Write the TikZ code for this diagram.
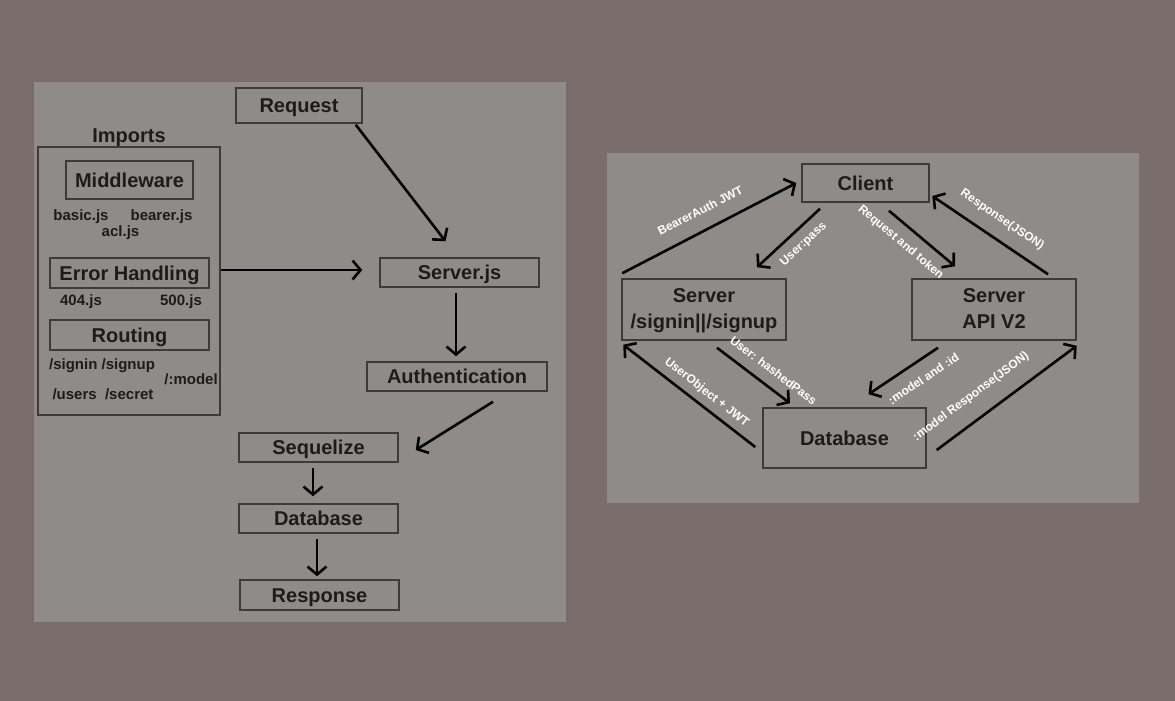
\documentclass[tikz,border=0pt]{standalone}
\usepackage{fontspec}
\setmainfont{Liberation Sans}
\usetikzlibrary{arrows.meta,calc}
\definecolor{outerbg}{HTML}{7A6E6D}
\definecolor{panelbg}{HTML}{8F8B8A}
\definecolor{boxc}{HTML}{3D3A3A}
\definecolor{txtc}{HTML}{1E1B1B}
\tikzset{
  boxn/.style={draw=boxc, line width=1.5pt, inner sep=0pt},
  big/.style={font=\fontsize{20}{24}\selectfont\bfseries, text=txtc, text height=14.3pt, text depth=0pt},
  small/.style={font=\fontsize{15}{18}\selectfont\bfseries, text=txtc, text height=10.7pt, text depth=0pt, inner sep=0pt},
  wl/.style={font=\fontsize{12}{14}\selectfont\bfseries, text=white, text height=8.6pt, text depth=0pt, inner sep=0pt, sloped},
  arr/.style={draw=black, line width=2.6pt, -{Straight Barb[length=8pt,width=19pt]}}
}
\begin{document}
\begin{tikzpicture}[x=1pt,y=-1pt]
\fill[outerbg] (0,0) rectangle (1175,701);
\useasboundingbox (0,0) rectangle (1175,701);
% panels
\fill[panelbg] (34,82) rectangle (566,622);
\fill[panelbg] (607,153) rectangle (1139,503);

% ---------- left panel ----------
\node[boxn, big, minimum width=126pt, minimum height=35pt] (request) at (299,105.5) {Request};
\node[big, inner sep=0pt] (importsl) at (129,135) {Imports};
\node[boxn, minimum width=182pt, minimum height=268pt] (imports) at (129,281) {};
\node[boxn, big, minimum width=127pt, minimum height=38pt] (middleware) at (129.5,180) {Middleware};
\node[small] (basic) at (81,215) {basic.js};
\node[small] (bearer) at (161.5,215) {bearer.js};
\node[small] (acl) at (120.5,231) {acl.js};
\node[boxn, big, minimum width=159pt, minimum height=30pt] (errh) at (129.5,273) {Error Handling};
\node[small] (e404) at (81,300) {404.js};
\node[small] (e500) at (181,300) {500.js};
\node[boxn, big, minimum width=159pt, minimum height=30pt] (routing) at (129.5,335) {Routing};
\node[small] (rsign) at (102,364) {/signin /signup};
\node[small] (rusers) at (103,394.5) {/users\ \ /secret};
\node[small] (rmodel) at (191,379) {/:model};

\node[boxn, big, minimum width=159pt, minimum height=29pt] (server) at (459.5,272.5) {Server.js};
\node[boxn, big, minimum width=180pt, minimum height=29pt] (auth) at (457,376.5) {Authentication};
\node[boxn, big, minimum width=159pt, minimum height=29pt] (seq) at (318.5,447.5) {Sequelize};
\node[boxn, big, minimum width=159pt, minimum height=29pt] (db) at (318.5,518.5) {Database};
\node[boxn, big, minimum width=159pt, minimum height=30pt] (resp) at (319.5,595) {Response};

\draw[arr] ($(request.south east)+(-7,1)$) -- ($(server.north)+(-14,-16)$);
\draw[arr] (imports.east |- 0,270) -- ($(server.west)+(-17,-2.5)$);
\draw[arr] ($(server.south)+(-3.5,5)$) -- ($(auth.north)+(-1,-5)$);
\draw[arr] ($(auth.south)+(36,10)$) -- ($(seq.east)+(17,2.5)$);
\draw[arr] ($(seq.south)+(-5.5,5)$) -- ($(db.north)+(-5.5,-7)$);
\draw[arr] ($(db.south)+(-1.5,5)$) -- ($(resp.north)+(-2.5,-3)$);

% ---------- right panel ----------
\node[boxn, big, minimum width=127pt, minimum height=38pt] (client) at (865.5,183) {Client};
\node[boxn, minimum width=164pt, minimum height=61pt] (srv1) at (704,309.5) {};
\node[big, inner sep=0pt] (srv1a) at (704,295.5) {Server};
\node[big, inner sep=0pt] (srv1b) at (704,321.5) {/signin||/signup};
\node[boxn, minimum width=164pt, minimum height=61pt] (srv2) at (994,309.5) {};
\node[big, inner sep=0pt] (srv2a) at (994,295.5) {Server};
\node[big, inner sep=0pt] (srv2b) at (994,321.5) {API V2};
\node[boxn, big, minimum width=163pt, minimum height=60pt] (rdb) at (844.5,438) {Database};

\draw[arr] ($(srv1.north west)+(1,-5)$) -- node[wl, pos=0.5, above=14.3pt] (lbear) {BearerAuth JWT} ($(client.west)+(-5,0)$);
\draw[arr] ($(client.south)+(-45.5,6)$) -- node[wl, pos=0.42, below=7.9pt] (lup) {User:pass} ($(srv1.north)+(53,-11)$);
\draw[arr] ($(client.south)+(23.5,8)$) -- node[wl, pos=0.34, below=9.9pt] (lrt) {Request and token} ($(srv2.north)+(-39,-12)$);
\draw[arr] ($(srv2.north)+(54,-4)$) -- node[wl, pos=0.49, above=15pt] (lrj) {Response(JSON)} ($(client.east)+(2.5,13)$);
\draw[arr] ($(rdb.west)+(-7,9)$) -- node[wl, pos=0.43, above=8.9pt] (luo) {UserObject + JWT} ($(srv1.south west)+(2,4)$);
\draw[arr] ($(srv1.south)+(13,7)$) -- node[wl, pos=0.64, above=10.5pt] (lhp) {User: hashedPass} ($(rdb.north)+(-54.5,-4)$);
\draw[arr] ($(srv2.south)+(-56,7)$) -- node[wl, pos=0.35, below=12.1pt] (lmi) {:model and :id} ($(rdb.north)+(24,-13)$);
\draw[arr] ($(rdb.east)+(10,12)$) -- node[wl, pos=0.34, above=17.7pt] (lmr) {:model Response(JSON)} ($(srv2.south east)+(0,5)$);
\end{tikzpicture}
\end{document}
